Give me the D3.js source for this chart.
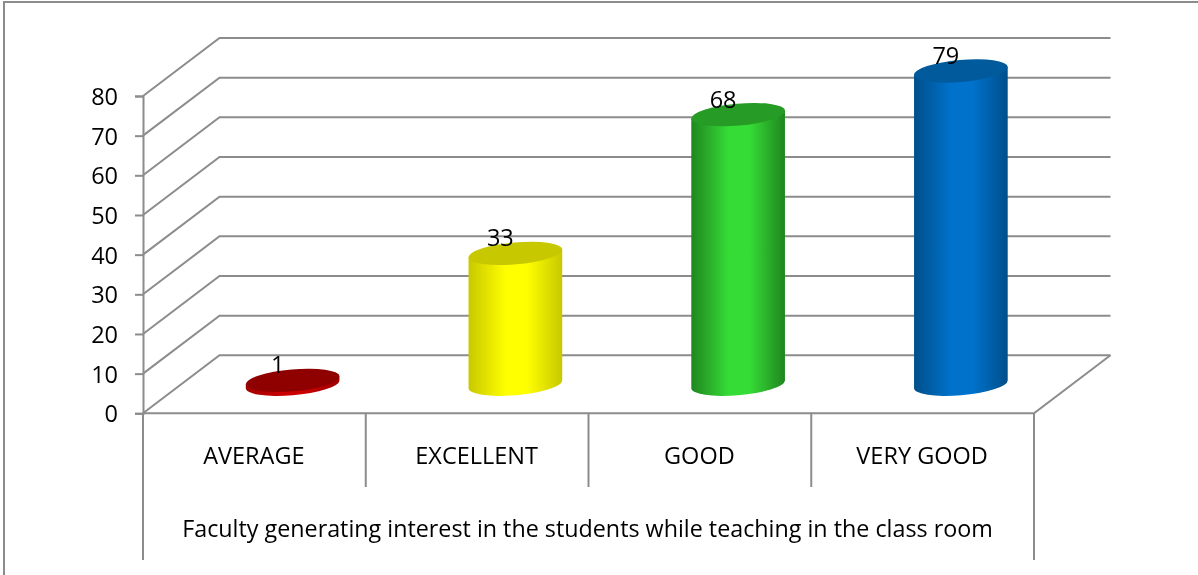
<!DOCTYPE html>
<html><head><meta charset="utf-8">
<script src="https://cdnjs.cloudflare.com/ajax/libs/d3/7.8.5/d3.min.js"></script>
<style>html,body{margin:0;padding:0;background:#fff}svg{display:block;filter:blur(0.45px)}
text{font-family:"Open Sans",Lato,sans-serif;fill:#000}</style>
</head><body><svg id="c" width="1198" height="575"></svg>
<script>
const categories = ["AVERAGE","EXCELLENT","GOOD","VERY GOOD"];
const values = [1,33,68,79];
const yTicks = [0,10,20,30,40,50,60,70,80];
const axisTitle = "Faculty generating interest in the students while teaching in the class room";
const topColors = ["#8f0000","#c8c800","#269c26","#005a9c"];
const edgeColors = ["#a00000","#c8c800","#1f861f","#004f8a"];
const midColors = ["#cc0000","#ffff00","#36dc36","#0072cc"];

const svg = d3.select("#c");
const grey = "#8c8c8c";
const x = d3.scaleBand().domain(categories).range([143,1034]).paddingInner(0).paddingOuter(0);
const y = d3.scaleLinear().domain([0,80]).range([413.3,96]);
const dx = 76.5, dy = -58;

// frame
svg.append("path").attr("d","M4,575V2H1198").attr("fill","none").attr("stroke",grey).attr("stroke-width",2);

// gradients
const defs = svg.append("defs");
categories.forEach((c,i)=>{
  const g = defs.append("linearGradient").attr("id","g"+i).attr("x1",0).attr("x2",1).attr("y1",0).attr("y2",0);
  [[0,edgeColors[i]],[.4,midColors[i]],[.62,midColors[i]],[1,edgeColors[i]]].forEach(s=>g.append("stop").attr("offset",s[0]).attr("stop-color",s[1]));
});

// walls
const wall = svg.append("g").attr("fill","none").attr("stroke",grey).attr("stroke-width",2);
yTicks.forEach(t=>{
  wall.append("path").attr("d",`M${x.range()[0]},${y(t)}L${x.range()[0]+dx},${y(t)+dy}H${x.range()[1]+dx}`);
});
wall.append("path").attr("d",`M${x.range()[0]},${y(0)}H${x.range()[1]}L${x.range()[1]+dx},${y(0)+dy}`);

// y axis
const ax = svg.append("g").attr("transform",`translate(${x.range()[0]},0)`)
  .call(d3.axisLeft(y).tickValues(yTicks).tickSize(8).tickPadding(17).tickFormat(d3.format("d")));
ax.select(".domain").attr("stroke",grey).attr("stroke-width",2);
ax.selectAll("line").attr("stroke",grey).attr("stroke-width",2);
ax.selectAll("text").attr("font-size",23.5).attr("dy","0.36em");

// category separators
const sep = svg.append("g").attr("stroke",grey).attr("stroke-width",2);
categories.forEach((c,i)=>{
  sep.append("line").attr("x1",x(c)).attr("x2",x(c)).attr("y1",y(0)).attr("y2",i===0?560:487);
});
sep.append("line").attr("x1",x.range()[1]).attr("x2",x.range()[1]).attr("y1",y(0)).attr("y2",560);

// cylinders
const rx=47, ry=11, rot=-5, th=rot*Math.PI/180;
const w=Math.sqrt(rx*rx*Math.cos(th)**2+ry*ry*Math.sin(th)**2);
const off=(rx*rx-ry*ry)*Math.sin(-th)*Math.cos(th)/w;
const bar = svg.append("g").selectAll("g").data(values).join("g");
bar.each(function(v,i){
  const g=d3.select(this);
  const cx=x(categories[i])+x.bandwidth()/2+dx/2;
  const by=y(0)+dy/2, ty=y(v)+dy/2;
  g.append("path").attr("fill",`url(#g${i})`)
   .attr("d",`M${cx-w},${ty+off}L${cx-w},${by+off}A${rx},${ry} ${rot} 0 0 ${cx+w},${by-off}L${cx+w},${ty-off}Z`);
  g.append("ellipse").attr("cx",cx).attr("cy",ty).attr("rx",rx).attr("ry",ry)
   .attr("transform",`rotate(${rot} ${cx} ${ty})`).attr("fill",topColors[i]);
  g.append("text").attr("x",cx-15).attr("y",ty-7).attr("text-anchor","middle").attr("font-size",23.5).text(v);
});

// labels
svg.append("g").selectAll("text").data(categories).join("text")
  .attr("x",d=>x(d)+x.bandwidth()/2-0.5).attr("y",464).attr("text-anchor","middle").attr("font-size",23.5).text(d=>d);
svg.append("text").attr("x",587.5).attr("y",537).attr("text-anchor","middle").attr("font-size",23.3).text(axisTitle);
</script></body></html>
